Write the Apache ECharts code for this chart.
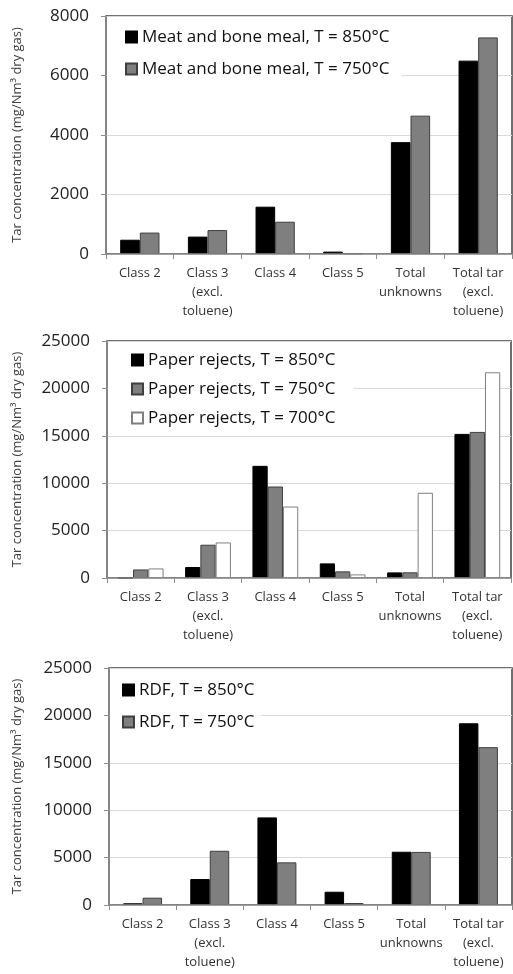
<!DOCTYPE html>
<html>
<head>
<meta charset="utf-8">
<script src="https://cdn.jsdelivr.net/npm/echarts@6/dist/echarts.min.js"></script>
<style>
html,body{margin:0;padding:0;background:#fff;}
#c{width:513px;height:974px;}
</style>
</head>
<body>
<div id="c"></div>
<script>
var categories = ['Class 2', 'Class 3\n(excl.\ntoluene)', 'Class 4', 'Class 5', 'Total\nunknowns', 'Total tar\n(excl.\ntoluene)'];

var mbmNames = ['Meat and bone meal, T = 850°C', 'Meat and bone meal, T = 750°C'];
var mbm850 = [480, 585, 1590, 80, 3760, 6500];
var mbm750 = [720, 805, 1085, 20, 4650, 7280];

var paperNames = ['Paper rejects, T = 850°C', 'Paper rejects, T = 750°C', 'Paper rejects, T = 700°C'];
var paper850 = [0, 1160, 11830, 1540, 590, 15200];
var paper750 = [900, 3510, 9650, 700, 600, 15410];
var paper700 = [1010, 3750, 7540, 380, 8990, 21700];

var rdfNames = ['RDF, T = 850°C', 'RDF, T = 750°C'];
var rdf850 = [180, 2740, 9240, 1400, 5620, 19170];
var rdf750 = [770, 5720, 4500, 210, 5600, 16650];

var yTicks1 = {min: 0, max: 8000, interval: 2000};
var yTicks23 = {min: 0, max: 25000, interval: 5000};

var FONT = 'Open Sans';
var yName = 'Tar concentration (mg/Nm³ dry gas)';

var styles = {
  black: {color: '#000000', borderColor: '#000000', borderWidth: 1},
  gray: {color: '#7f7f7f', borderColor: '#3f3f3f', borderWidth: 1},
  white: {color: '#ffffff', borderColor: '#7f7f7f', borderWidth: 1}
};

var grids = [
  {left: 106, top: 16, right: 1, height: 238},
  {left: 107, top: 341, right: 2, height: 237},
  {left: 109, top: 668, right: 1, height: 237}
];

function xAx(i) {
  return {
    type: 'category', gridIndex: i, data: categories, z: 5,
    axisLine: {lineStyle: {color: '#8c8c8c', width: 1.5}},
    axisTick: {show: true, length: 5, lineStyle: {color: '#8c8c8c'}, alignWithLabel: false},
    axisLabel: {fontFamily: FONT, fontSize: 13, color: '#333', lineHeight: 19, margin: 10, interval: 0}
  };
}
function yAx(i, t, gap) {
  return {
    type: 'value', gridIndex: i, min: t.min, max: t.max, interval: t.interval,
    name: yName, nameLocation: 'middle', nameRotate: 90, nameGap: gap,
    nameTextStyle: {fontFamily: FONT, fontSize: 13, color: '#404040'},
    axisLine: {show: true, lineStyle: {color: '#8c8c8c', width: 1.5}},
    axisTick: {show: true, length: 5, lineStyle: {color: '#8c8c8c'}},
    splitLine: {show: true, lineStyle: {color: '#d9d9d9', width: 1}},
    axisLabel: {fontFamily: FONT, fontSize: 17, color: '#222', margin: 17,
      formatter: function (v) { return String(v); }}
  };
}
function bar(name, data, i, st, gapCat) {
  return {
    type: 'bar', name: name, data: data, xAxisIndex: i, yAxisIndex: i,
    barGap: '0%', barCategoryGap: gapCat, itemStyle: st, emphasis: {disabled: true}
  };
}
function leg(names, left, top, gap, pad) {
  return {
    data: names, orient: 'vertical', left: left, top: top, itemGap: gap,
    itemWidth: 11, itemHeight: 11, icon: 'rect',
    backgroundColor: '#ffffff', padding: pad,
    textStyle: {fontFamily: FONT, fontSize: 17, color: '#111', lineHeight: 20}
  };
}

var chart = echarts.init(document.getElementById('c'), null, {renderer: 'canvas'});
chart.setOption({
  animation: false,
  backgroundColor: '#ffffff',
  grid: grids.map(function (g) {
    return Object.assign({show: true, borderColor: '#404040', borderWidth: 1.5, backgroundColor: 'transparent'}, g);
  }),
  xAxis: [xAx(0), xAx(1), xAx(2)],
  yAxis: [yAx(0, yTicks1, 82), yAx(1, yTicks23, 83), yAx(2, yTicks23, 85)],
  legend: [
    leg(mbmNames, 107, 18, 12, [9, 12, 3, 18]),
    leg(paperNames, 108, 343, 9, [7, 18, 2, 23]),
    leg(rdfNames, 110, 670, 12, [10, 7, 3, 12])
  ],
  series: [
    bar(mbmNames[0], mbm850, 0, styles.black, '42%'),
    bar(mbmNames[1], mbm750, 0, styles.gray, '42%'),
    bar(paperNames[0], paper850, 1, styles.black, '32%'),
    bar(paperNames[1], paper750, 1, styles.gray, '32%'),
    bar(paperNames[2], paper700, 1, styles.white, '32%'),
    bar(rdfNames[0], rdf850, 2, styles.black, '42%'),
    bar(rdfNames[1], rdf750, 2, styles.gray, '42%')
  ]
});
</script>
</body>
</html>
